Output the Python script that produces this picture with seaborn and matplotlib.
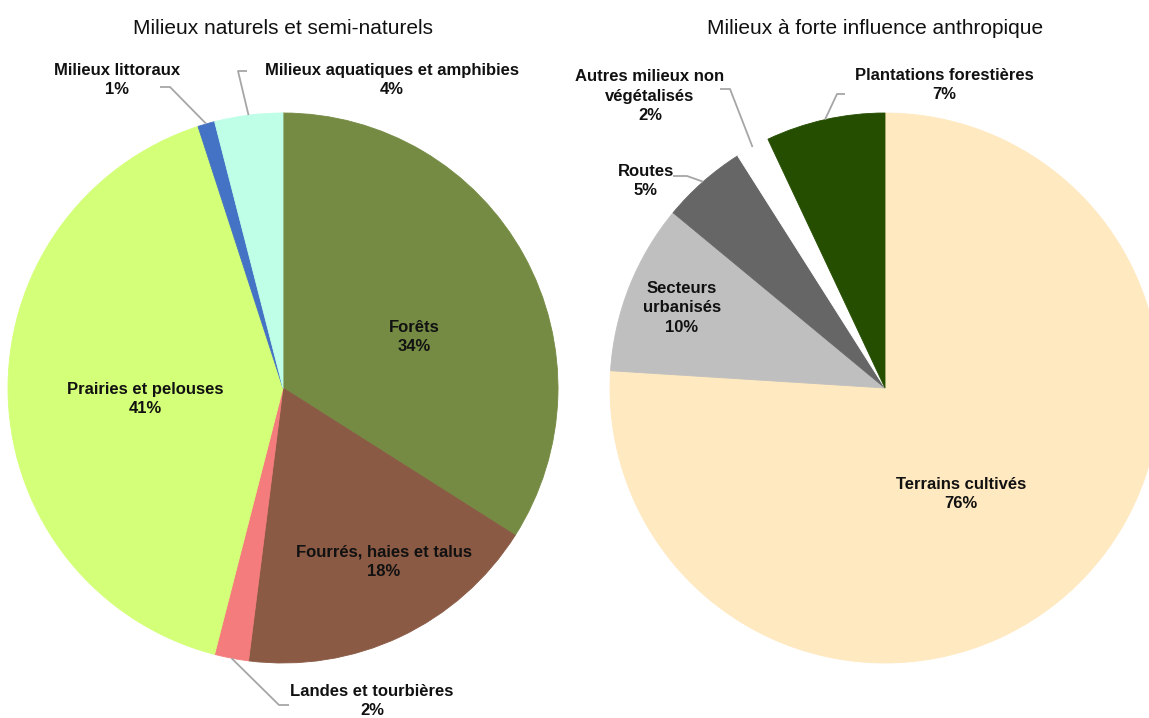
import numpy as np
import matplotlib
matplotlib.use("Agg")
import matplotlib.pyplot as plt
import seaborn as sns

# --- data -------------------------------------------------------------------
nat_title = "Milieux naturels et semi-naturels"
nat_labels = ["Forêts", "Fourrés, haies et talus", "Landes et tourbières",
              "Prairies et pelouses", "Milieux littoraux",
              "Milieux aquatiques et amphibies"]
nat_values = [34, 18, 2, 41, 1, 4]

anth_title = "Milieux à forte influence anthropique"
anth_labels = ["Terrains cultivés", "Secteurs\nurbanisés", "Routes",
               "Autres milieux non\nvégétalisés", "Plantations forestières"]
anth_values = [76, 10, 5, 2, 7]

# --- styling ----------------------------------------------------------------
nat_colors = ["#758B43", "#8A5A44", "#F47C7C", "#D4FF78", "#4472C4", "#BFFFE8"]
anth_colors = ["#FFE9C0", "#BFBFBF", "#666666", "#FFFFFF", "#254E00"]

sns.set_theme(style="white")
plt.rcParams["font.family"] = ["Liberation Sans", "DejaVu Sans"]

W, H = 1149, 718
R = 275

fig = plt.figure(figsize=(W / 100, H / 100), dpi=100)
ax = fig.add_axes([0, 0, 1, 1])


def px(x, y):
    """Pixel position (origin top-left) to data coordinates."""
    return x, H - y


def draw_pie(values, colors, center):
    cx, cy = px(*center)
    wedges, _ = ax.pie(values, colors=colors, startangle=90, counterclock=False,
                       radius=R, center=(cx, cy),
                       wedgeprops=dict(linewidth=0.6))
    for w in wedges:
        w.set_edgecolor(w.get_facecolor())
    total = float(sum(values))
    cum = np.cumsum(values) - np.asarray(values) / 2.0
    angles = np.deg2rad(90 - 360 * cum / total)
    edge_pts = [(cx + R * np.cos(a), cy + R * np.sin(a)) for a in angles]
    return edge_pts


def label(text, value, pos, size=12):
    x, y = px(*pos)
    ax.text(x, y, f"{text}\n{value}%", ha="center", va="center",
            fontsize=size, fontweight="bold", color="#111111", linespacing=1.4)


def leader(start, elbow, end):
    xs = [start[0], px(*elbow)[0], px(*end)[0]]
    ys = [start[1], px(*elbow)[1], px(*end)[1]]
    ax.plot(xs, ys, color="#A6A6A6", lw=1.3, solid_capstyle="butt")


# left pie: natural environments
nat_edges = draw_pie(nat_values, nat_colors, (283, 388))
nat_label_pos = [(414, 337), (384, 562), (372, 701), (145, 399), (117, 80), (392, 80)]
for t, v, p in zip(nat_labels, nat_values, nat_label_pos):
    label(t, v, p)
leader(nat_edges[2], (279, 705), (289, 705))
leader(nat_edges[4], (170, 87), (160, 87))
leader(nat_edges[5], (238, 71), (247, 71))

# right pie: strongly human-influenced environments
anth_edges = draw_pie(anth_values, anth_colors, (885, 388))
anth_label_pos = [(961, 494), (682, 308), (646, 181), (650, 96), (944, 85)]
for t, v, p in zip(anth_labels, anth_values, anth_label_pos):
    label(t, v, p)
leader(anth_edges[2], (687, 176), (673, 176))
leader(anth_edges[3], (730, 89), (720, 89))
leader(anth_edges[4], (837, 94), (845, 94))

# titles
ax.text(*px(283, 28), nat_title, ha="center", va="center", fontsize=15, color="#111111")
ax.text(*px(875, 28), anth_title, ha="center", va="center", fontsize=15, color="#111111")

ax.set_xlim(0, W)
ax.set_ylim(0, H)
ax.set_aspect("equal")
ax.axis("off")

fig.savefig("out.png", dpi=100, facecolor="white")
